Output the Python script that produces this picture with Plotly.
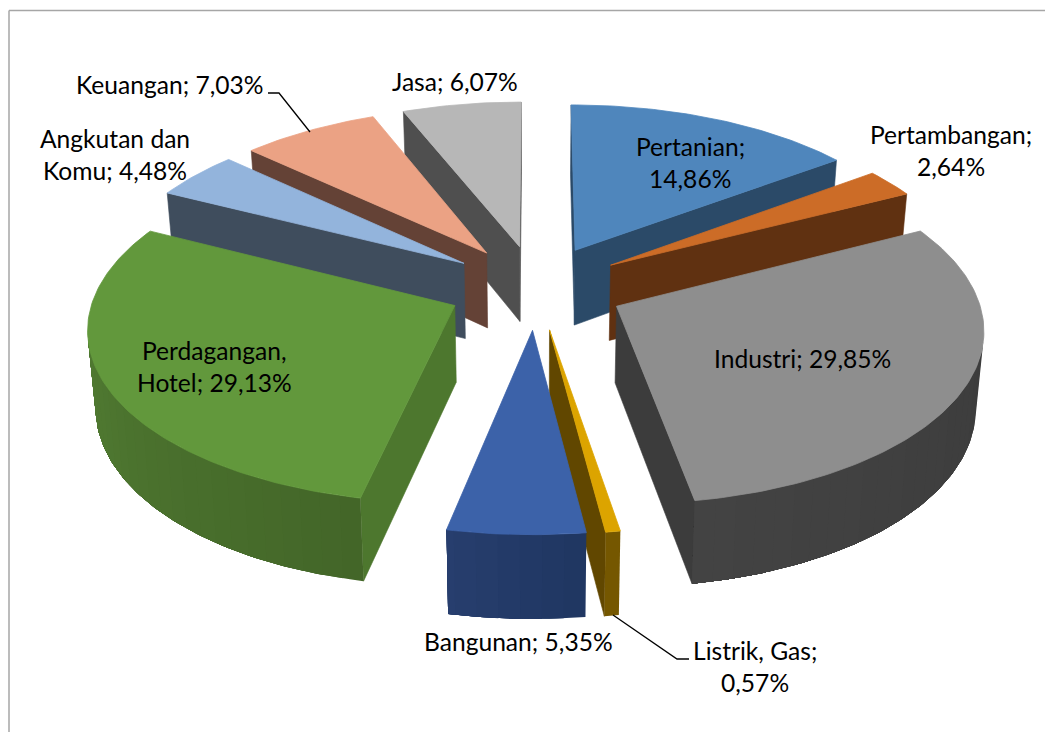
import math
import plotly.graph_objects as go

# ---- data (percent shares, clockwise from 12 o'clock) ----
categories = ["Pertanian", "Pertambangan", "Industri", "Listrik, Gas", "Bangunan",
              "Perdagangan, Hotel", "Angkutan dan Komu", "Keuangan", "Jasa"]
shares = [14.86, 2.64, 29.85, 0.57, 5.35, 29.13, 4.48, 7.03, 6.07]
label_lines = [["Pertanian;", "14,86%"], ["Pertambangan;", "2,64%"], ["Industri; 29,85%"],
               ["Listrik, Gas;", "0,57%"], ["Bangunan; 5,35%"],
               ["Perdagangan,", "Hotel; 29,13%"], ["Angkutan dan", "Komu; 4,48%"],
               ["Keuangan; 7,03%"], ["Jasa; 6,07%"]]

# ---- styles ----
top_colors = ["#4F86BC", "#CC6C27", "#8E8E8E", "#DCA400", "#3C62A9", "#62983C", "#93B4DC", "#EBA284", "#B7B7B7"]
radial_colors = ["#2B4A68", "#603111", "#3C3C3C", "#614700", "#243B6A", "#4D772E", "#3F4D5D", "#644236", "#4F4F4F"]
arc_stops = [("#2B4A68", "#2B4A68"), ("#603111", "#603111"), ("#393939", "#434343"), ("#755700", "#755700"),
             ("#1F3661", "#273E6E"), ("#436628", "#578537"), ("#3F4D5D", "#3F4D5D"), ("#644236", "#644236"),
             ("#4F4F4F", "#4F4F4F")]
draw_order = ["Jasa", "Pertanian", "Keuangan", "Angkutan dan Komu", "Pertambangan",
              "Perdagangan, Hotel", "Industri", "Listrik, Gas", "Bangunan"]
label_pos = {"Pertanian": (690, 146.5), "Pertambangan": (951, 134.5), "Industri": (802, 358.5),
             "Listrik, Gas": (755, 650.5), "Bangunan": (518, 641.5), "Perdagangan, Hotel": (214, 350.5),
             "Angkutan dan Komu": (115, 138.5), "Keuangan": (170, 84.5), "Jasa": (455, 81.5)}
leaders = [([268, 279, 310], [93, 93, 132]), ([613, 677, 689], [615, 659, 659])]

FONT = "Lato"
FONT_SIZE = 24.6
LINE_GAP = 32

# ---- projection of the 3-D pie ----
CX, CY, R, RT = 536, 287, 359, 170
PERSP, EXPLODE, DEPTH, SHRINK = 0.115, 0.248, 76, 0.982


def project(x, y):
    s = 1 / (1 + PERSP * y)
    return CX + R * x * s, CY - RT * y * s, s


def drop(p):
    return CX + (p[0] - CX) * SHRINK, CY + (p[1] - CY) * SHRINK + DEPTH * p[2]


def mix(a, b, t):
    ca = [int(a[i:i + 2], 16) for i in (1, 3, 5)]
    cb = [int(b[i:i + 2], 16) for i in (1, 3, 5)]
    return "#%02X%02X%02X" % tuple(round(u + (v - u) * t) for u, v in zip(ca, cb))


def poly(pts, color, width=0.6):
    xs = [p[0] for p in pts] + [pts[0][0]]
    ys = [p[1] for p in pts] + [pts[0][1]]
    return go.Scatter(x=xs, y=ys, mode="lines", fill="toself", fillcolor=color,
                      line=dict(color=color, width=width), hoverinfo="skip", showlegend=False)


def visible(a, b, a2):
    dx, dy = b[0] - a[0], b[1] - a[1]
    return (a2[0] - a[0]) * dy + (a2[1] - a[1]) * (-dx) > 0


total = sum(shares)
spans = {}
acc = 0.0
for name, v in zip(categories, shares):
    spans[name] = (acc / total * 2 * math.pi, (acc + v) / total * 2 * math.pi)
    acc += v

fig = go.Figure()
for name in draw_order:
    i = categories.index(name)
    a0, a1 = spans[name]
    mid = (a0 + a1) / 2
    ox, oy = EXPLODE * math.sin(mid), EXPLODE * math.cos(mid)
    n = max(3, int((a1 - a0) / math.radians(1.0)))
    arc = []
    for k in range(n + 1):
        th = a0 + (a1 - a0) * k / n
        arc.append(project(ox + math.sin(th), oy + math.cos(th)))
    apex = project(ox, oy)
    # radial walls
    for a, b in ((apex, arc[0]), (arc[-1], apex)):
        if visible(a, b, drop(a)):
            fig.add_trace(poly([a[:2], b[:2], drop(b), drop(a)], radial_colors[i]))
    # outer wall: each band is painted over the remainder of the wall, so no seams appear
    vis = [k for k in range(n) if visible(arc[k], arc[k + 1], drop(arc[k]))]
    if vis:
        last = vis[-1] + 1
        step = 3
        for k in vis[::step]:
            c = mix(arc_stops[i][0], arc_stops[i][1], (k + step / 2) / n)
            seg = arc[k:last + 1]
            fig.add_trace(poly([p[:2] for p in seg] + [drop(p) for p in reversed(seg)], c, width=0))
    # top face
    fig.add_trace(poly([apex[:2]] + [p[:2] for p in arc], top_colors[i], width=0.8))

for lx, ly in leaders:
    fig.add_trace(go.Scatter(x=lx, y=ly, mode="lines", line=dict(color="#000000", width=1.3),
                             hoverinfo="skip", showlegend=False))

annotations = []
for name, lines in zip(categories, label_lines):
    x, y = label_pos[name]
    for j, text in enumerate(lines):
        annotations.append(dict(x=x, y=y + j * LINE_GAP, text=text, showarrow=False, xanchor="center",
                                yanchor="middle", font=dict(family=FONT, size=FONT_SIZE, color="#000000")))

shapes = [dict(type="line", x0=9, x1=1045, y0=10.5, y1=10.5, line=dict(color="#A6A6A6", width=1.5)),
          dict(type="line", x0=9, x1=9, y0=10.5, y1=732, line=dict(color="#A6A6A6", width=1.5))]

fig.update_layout(width=1045, height=732, margin=dict(l=0, r=0, t=0, b=0),
                  paper_bgcolor="#FFFFFF", plot_bgcolor="#FFFFFF", showlegend=False,
                  xaxis=dict(range=[0, 1045], visible=False, fixedrange=True),
                  yaxis=dict(range=[732, 0], visible=False, fixedrange=True),
                  annotations=annotations, shapes=shapes, hovermode=False)

fig.write_html("out.html", config={"displayModeBar": False},
               post_script="document.body.style.margin='0';document.body.style.overflow='hidden';")
